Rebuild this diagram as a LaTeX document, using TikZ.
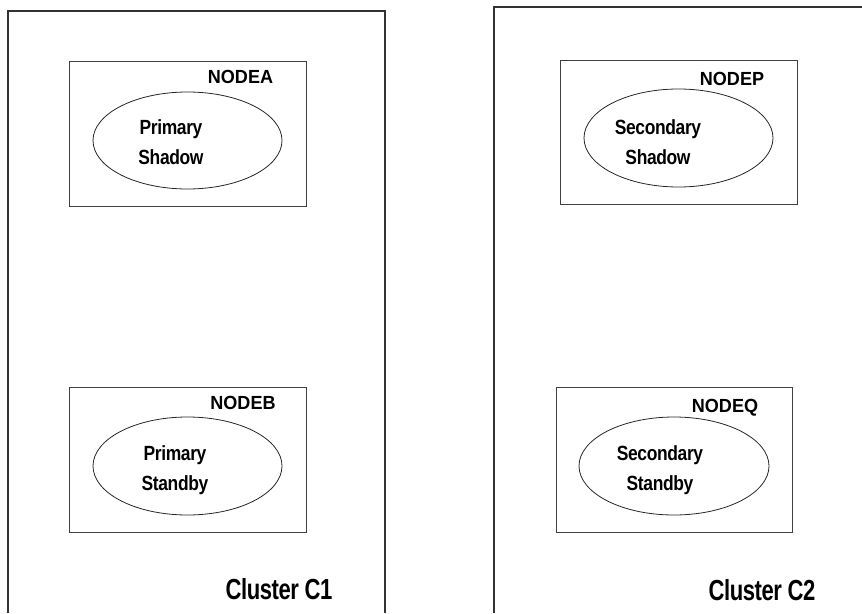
\documentclass[tikz,border=0pt]{standalone}
\usepackage{fontspec}
\setmainfont{Liberation Sans}
\newfontfamily\hostfont[FakeStretch=0.95]{Liberation Sans}
\newfontfamily\rolefont[FakeStretch=0.85,LetterSpace=-1.8]{Liberation Sans}
\newfontfamily\clusterfont[FakeStretch=0.76,LetterSpace=-1.5]{Liberation Sans}
\usetikzlibrary{shapes.geometric}

\begin{document}
\begin{tikzpicture}[x=0.75pt,y=-0.75pt,
  frame/.style={draw=black!80, line width=0.8pt},
  hostbox/.style={draw=black!75, line width=0.7pt, rectangle, inner sep=0pt},
  role/.style={draw=black!85, line width=0.6pt, ellipse, inner sep=0pt},
  hostname/.style={font=\hostfont\bfseries\fontsize{14.25pt}{16pt}\selectfont, inner sep=0pt},
  rolename/.style={font=\rolefont\bfseries\fontsize{15.4pt}{22.5pt}\selectfont, align=center, inner sep=0pt},
  clustername/.style={font=\clusterfont\bfseries\fontsize{21.75pt}{24pt}\selectfont, inner sep=0pt}
]
\useasboundingbox (0,0) rectangle (862,613);

% cluster frames, open at the page edges
\draw[frame] (8,613) -- (8,11) -- (385,11) -- (385,613);
\draw[frame] (494,613) -- (494,7) -- (862,7);

% cluster C1
\node[hostbox, minimum width=177.75pt, minimum height=108.75pt] (boxA) at (187.5,134) {};
\node[role, minimum width=141.75pt, minimum height=72.75pt] (ellA) at (187.5,140.5) {};
\node[hostname] (nameA) at (240.5,77) {NODEA};
\node[rolename] (roleA) at (171,142.5) {Primary\\Shadow};

\node[hostbox, minimum width=177.75pt, minimum height=108.75pt] (boxB) at (187.5,459.5) {};
\node[role, minimum width=141.75pt, minimum height=73.5pt] (ellB) at (187.5,466) {};
\node[hostname] (nameB) at (243,403) {NODEB};
\node[rolename] (roleB) at (175,470) {Primary\\Standby};

\node[clustername] (nameC1) at (279,589) {Cluster C1};

% cluster C2
\node[hostbox, minimum width=177.75pt, minimum height=108pt] (boxP) at (678.5,132) {};
\node[role, minimum width=141.75pt, minimum height=73.5pt] (ellP) at (678.5,138) {};
\node[hostname] (nameP) at (732,79) {NODEP};
\node[rolename] (roleP) at (658,142.5) {Secondary\\Shadow};

\node[hostbox, minimum width=177pt, minimum height=108.75pt] (boxQ) at (674,459.5) {};
\node[role, minimum width=142.5pt, minimum height=73.5pt] (ellQ) at (674,466) {};
\node[hostname] (nameQ) at (725,407.5) {NODEQ};
\node[rolename] (roleQ) at (660,470) {Secondary\\Standby};

\node[clustername] (nameC2) at (762,590) {Cluster C2};
\end{tikzpicture}
\end{document}
